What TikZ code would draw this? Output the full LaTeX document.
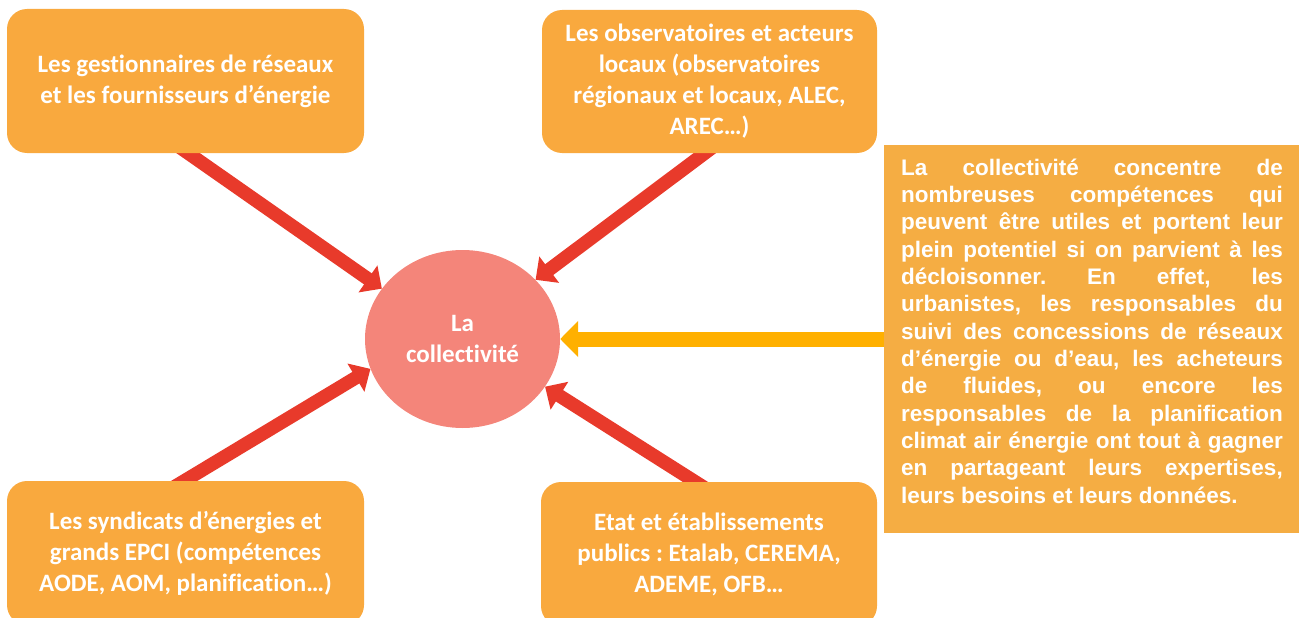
\documentclass[tikz,border=0pt]{standalone}
\usepackage{fontspec}
\setmainfont{Carlito}[Ligatures=NoCommon]
\newfontfamily\arialf{Liberation Sans}
\usetikzlibrary{arrows.meta,shapes.geometric,backgrounds}
\definecolor{boxc}{HTML}{F9A93E}
\definecolor{tboxc}{HTML}{F5AD43}
\definecolor{circc}{HTML}{F4857A}
\definecolor{redc}{HTML}{E83A2B}
\definecolor{ambc}{HTML}{FFB000}
\frenchspacing
\begin{document}
\begin{tikzpicture}[x=1pt,y=-1pt,
 actor/.style={fill=boxc, rounded corners=20pt, text=white, align=center, inner sep=0pt,
   font=\fontsize{25}{31}\selectfont\bfseries\frenchspacing},
 redarrow/.style={draw=redc, line width=13.5pt, -{Triangle[width=32pt,length=17pt]}},
 amberarrow/.style={draw=ambc, line width=15pt, -{Triangle[width=35pt,length=18pt]}}]
\useasboundingbox (0,0) rectangle (1299,618);
\clip (0,0) rectangle (1299,618);
\node[actor, minimum width=357pt, minimum height=144pt] (b1) at (185.5,81)
  {Les gestionnaires de réseaux\\et les fournisseurs d’énergie};
\node[actor, minimum width=335pt, minimum height=143pt] (b2) at (709.5,81.5)
  {Les observatoires et acteurs\\locaux (observatoires\\régionaux et locaux, ALEC,\\AREC…)};
\node[actor, minimum width=357pt, minimum height=144pt] (b3) at (185.5,553)
  {Les syndicats d’énergies et\\grands EPCI (compétences\\AODE, AOM, planification…)};
\node[actor, minimum width=336pt, minimum height=144pt] (b4) at (709,554)
  {Etat et établissements\\publics : Etalab, CEREMA,\\ADEME, OFB…};
\node[ellipse, fill=circc, minimum width=195pt, minimum height=178pt, inner sep=0pt,
  text=white, align=center, font=\fontsize{25}{31}\selectfont\bfseries] (c) at (462.5,339)
  {La\\collectivité};
\node[fill=tboxc, minimum width=415pt, minimum height=388pt, inner sep=0pt] (tb) at (1091.5,339) {};
\node[anchor=north west, inner sep=0pt, text width=381.6pt, align=justify, text=white,
  font=\arialf\bfseries\fontsize{22.5}{27.33}\selectfont] (tbt) at (901,154)
  {\frenchspacing\hyphenpenalty=10000\rule{0pt}{21pt}La collectivité concentre de\linebreak
nombreuses compétences qui\linebreak
peuvent être utiles et portent leur\linebreak
plein potentiel si on parvient à les\linebreak
décloisonner. En effet, les\linebreak
urbanistes, les responsables du\linebreak
suivi des concessions de réseaux\linebreak
d’énergie ou d’eau, les acheteurs\linebreak
de fluides, ou encore les\linebreak
responsables de la planification\linebreak
climat air énergie ont tout à gagner\linebreak
en partageant leurs expertises,\linebreak
leurs besoins et leurs données.};
\begin{scope}[on background layer]
\coordinate (s1) at (167.5,138.7);
\coordinate (s2) at (725,138);
\coordinate (s3) at (163.3,493.5);
\coordinate (s4) at (716,495);
\draw[redarrow] (s1) -- (c.148);
\draw[redarrow] (s2) -- (c.39);
\draw[redarrow] (s3) -- (c.198);
\draw[redarrow] (s4) -- (c.-30);
\end{scope}
\draw[amberarrow] (tb.west) -- (c.east);
\end{tikzpicture}
\end{document}
